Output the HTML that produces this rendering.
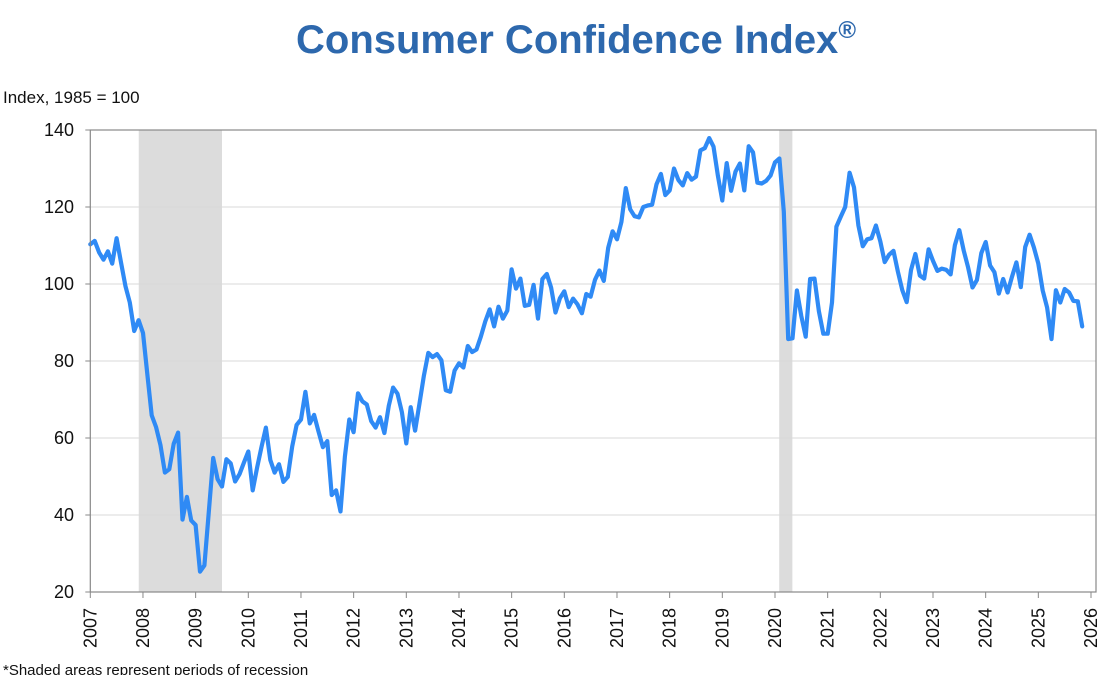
<!DOCTYPE html>
<html><head><meta charset="utf-8"><style>
body{margin:0;background:#fff;width:1118px;height:675px;overflow:hidden}
svg{display:block;font-family:"Liberation Sans",Arial,sans-serif}
</style></head><body>
<svg id="chart" width="1118" height="675">
<text x="576" y="53" text-anchor="middle" font-size="40" font-weight="bold" fill="#2d68ad">Consumer Confidence Index<tspan font-size="24" dy="-15">®</tspan></text>
<text x="3" y="103" font-size="17" fill="#111">Index, 1985 = 100</text>
<text x="3" y="675" font-size="15" fill="#111">*Shaded areas represent periods of recession</text>
<g id="g-rec"></g><g id="g-grid"></g><g id="g-line"></g><g id="g-axis"></g>
</svg>
<script>
const recessionStarts=[2007.92,2020.08];
const recessionEnds=[2009.5,2020.33];
const yTicks=[20,40,60,80,100,120,140];
const xTicks=[2007,2008,2009,2010,2011,2012,2013,2014,2015,2016,2017,2018,2019,2020,2021,2022,2023,2024,2025,2026];
const startYear=2007;
const values=[
110.3,111.2,108.2,106.3,108.5,105.3,111.9,105.6,99.5,95.2,87.8,90.6,
87.3,76.4,65.9,62.8,58.1,51.0,51.9,58.5,61.4,38.8,44.7,38.6,
37.4,25.3,26.9,40.8,54.8,49.3,47.4,54.5,53.4,48.7,50.6,53.6,
56.5,46.4,52.3,57.7,62.7,54.3,51.0,53.2,48.6,49.9,57.8,63.4,
64.8,72.0,63.8,66.0,61.7,57.6,59.2,45.2,46.4,40.9,55.2,64.8,
61.5,71.6,69.5,68.7,64.4,62.7,65.4,61.3,68.4,73.1,71.5,66.7,
58.6,68.0,61.9,69.0,76.2,82.1,81.0,81.8,80.2,72.4,72.0,77.5,
79.4,78.3,83.9,82.3,83.0,86.4,90.3,93.4,89.0,94.1,91.0,93.1,
103.8,98.8,101.4,94.3,94.6,99.8,91.0,101.3,102.6,99.1,92.6,96.3,
98.1,94.0,96.2,94.7,92.4,97.4,96.7,101.1,103.5,100.8,109.4,113.7,
111.6,116.1,124.9,119.4,117.6,117.3,120.0,120.4,120.6,125.9,128.6,123.1,
124.3,130.0,127.0,125.6,128.8,127.1,127.9,134.7,135.3,137.9,135.7,128.1,
121.7,131.4,124.2,129.2,131.3,124.3,135.8,134.2,126.3,126.1,126.8,128.2,
131.6,132.6,118.8,85.7,85.9,98.3,91.7,86.3,101.3,101.4,92.9,87.1,
87.1,95.2,114.9,117.5,120.0,128.9,125.1,115.2,109.8,111.6,111.9,115.2,
111.1,105.7,107.6,108.6,103.2,98.4,95.3,103.6,107.8,102.2,101.4,109.0,
106.0,103.4,104.0,103.7,102.5,110.1,114.0,108.7,104.3,99.1,101.0,108.0,
110.9,104.8,103.1,97.5,101.3,97.8,101.9,105.6,99.2,109.6,112.8,109.5,
105.3,98.3,93.9,85.7,98.4,95.2,98.7,97.8,95.6,95.5,89.0];
const NS='http://www.w3.org/2000/svg';
const L=90.3,R=1091,T=130,B=592,X0=2007,X1=2026,Y0=20,Y1=140;
const xs=v=>L+(v-X0)/(X1-X0)*(R-L);
const ys=v=>B-(v-Y0)/(Y1-Y0)*(B-T);
function mk(tag,at,parent){const e=document.createElementNS(NS,tag);for(const k in at)e.setAttribute(k,at[k]);document.getElementById(parent).appendChild(e);return e;}
recessionStarts.forEach((s,i)=>{
 const r=mk('rect',{x:xs(s),y:T,width:xs(recessionEnds[i])-xs(s),height:B-T,fill:'#dcdcdc'},'g-rec');
 
 
});
yTicks.forEach(v=>{
 if(v!==Y0&&v!==Y1){const g=mk('line',{x1:L,x2:1096,y1:ys(v),y2:ys(v),stroke:'#d9d9d9','stroke-width':1},'g-grid');
 
 }
 mk('line',{x1:L-5,x2:L,y1:ys(v),y2:ys(v),stroke:'#888'},'g-axis');
 const t=mk('text',{x:74,y:ys(v)+6,'text-anchor':'end','font-size':18,fill:'#111'},'g-axis');
 t.textContent=v;
 
 
});
xTicks.forEach(v=>{
 const x=xs(v);
 mk('line',{x1:x,x2:x,y1:B,y2:B+6,stroke:'#888'},'g-axis');
 const t=mk('text',{x:0,y:0,transform:`translate(${x+6},${648}) rotate(-90)`,'font-size':18,fill:'#111'},'g-axis');
 t.textContent=v;
 
 
});
const fr=mk('rect',{x:L,y:T,width:1096-L,height:B-T,fill:'none',stroke:'#888','stroke-width':1.2},'g-axis');


const pts=values.map((v,i)=>xs(startYear+i/12).toFixed(1)+','+ys(v).toFixed(1)).join(' ');
const pl=mk('polyline',{points:pts,fill:'none',stroke:'#2f8af5','stroke-width':4.2,'stroke-linejoin':'round','stroke-linecap':'round'},'g-line');


</script>
</body></html>
